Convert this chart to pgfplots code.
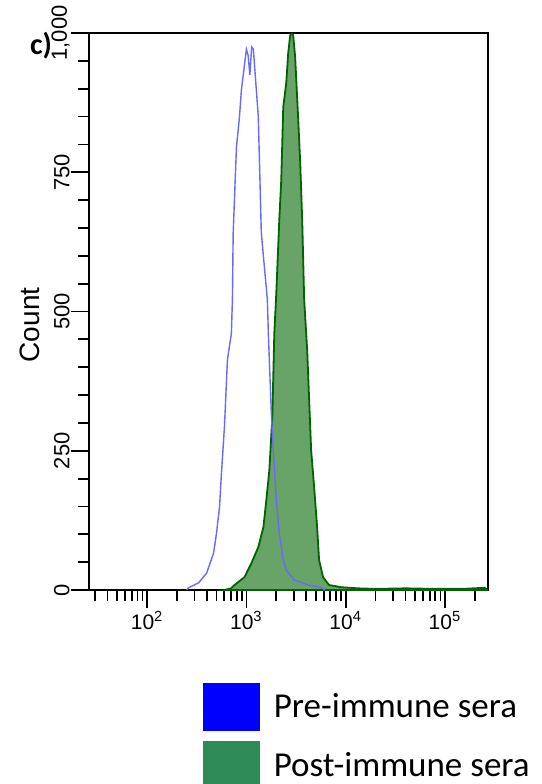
\documentclass[border=0pt]{standalone}
\usepackage{fontspec}
\setmainfont{Carlito}
\newfontfamily\arial{Liberation Sans}
\usepackage{pgfplots}
\usepackage{pgfplotstable}
\pgfplotsset{compat=1.18}
\definecolor{preblue}{RGB}{0,0,255}
\definecolor{postgreen}{RGB}{46,139,87}
\definecolor{fillgreen}{RGB}{104,163,104}
\definecolor{linegreen}{RGB}{0,100,0}
\definecolor{lineblue}{RGB}{105,105,255}

% pre-immune sera (outline histogram)
\pgfplotstableread{
x      c
250    0
262    4
330    13
397    30
467    66
500    102
536    149
561    210
601    293
644    413
706    461
723    521
736    641
794    795
851    849
891    898
1000   971
1040   960
1084   925
1130   975
1175   971
1259   898
1318   849
1413   641
1626   521
1663   461
1782   318
1866   251
2000   162
2143   102
2350   54
2518   36
3027   18
4188   9
5649   4
6200   0
}\pretable

% post-immune sera (filled histogram)
\pgfplotstableread{
x       c
600     0
700     3
759     9
955     23
1122    48
1318    77
1483    113
1589    162
1702    215
1824    311
1910    461
2000    533
2143    664
2244    736
2350    867
2518    910
2636    964
2761    996
2891    1000
2958    996
3097    957
3327    844
3483    767
3648    664
3819    521
4093    431
4487    251
4808    185
5152    113
5395    54
5916    23
6792    9
9000    5
13270   3
20000   2
40000   3
80000   2
150000  2
250000  4
270000  0
}\posttable

\begin{document}
\begin{tikzpicture}[x=1pt,y=1pt]
\begin{axis}[
  at={(44.5pt,97pt)}, anchor=south west,
  scale only axis, width=199.5pt, height=278.5pt,
  xmode=log, xmin=26, xmax=271000,
  ymin=0, ymax=1000,
  axis line style={line width=0.9pt},
  tick style={line width=0.9pt, black},
  tick align=outside, xtick pos=bottom, ytick pos=left,
  major tick length=9pt, minor tick length=5.5pt,
  xtick={100,1000,10000,100000},
  xticklabels={10\textsuperscript{2},10\textsuperscript{3},10\textsuperscript{4},10\textsuperscript{5}},
  minor xtick={30,40,50,60,70,80,90,200,300,400,500,600,700,800,900,
    2000,3000,4000,5000,6000,7000,8000,9000,
    20000,30000,40000,50000,60000,70000,80000,90000,200000},
  ytick={0,250,500,750,1000},
  yticklabels={0,250,500,750,{1,000}},
  minor y tick num=4,
  /pgf/number format/assume math mode=true,
  xticklabel style={font=\arial\fontsize{10.5}{12}\selectfont, inner sep=1.5pt},
  yticklabel style={font=\arial\fontsize{11}{12}\selectfont, rotate=90, anchor=south, inner sep=0.5pt},
  ylabel={Count},
  ylabel style={font=\arial\fontsize{14}{16}\selectfont, at={(axis description cs:-0.148,0.476)}, anchor=center},
  legend style={draw=none, fill=none, at={(0.2857,-0.167)}, anchor=north west,
    inner sep=0pt, outer sep=0pt, column sep=7pt, row sep=5pt,
    nodes={inner sep=0pt, anchor=west},
    font=\fontsize{17.5}{19}\selectfont},
  legend cell align=left,
  reverse legend,
]
\addplot[draw=linegreen, fill=fillgreen, line width=0.9pt,
  legend image code/.code={\fill[postgreen] (0pt,-11.75pt) rectangle (27.5pt,11.75pt);}]
  table[x=x, y=c] {\posttable} \closedcycle;
\addplot[draw=lineblue, line width=0.7pt,
  legend image code/.code={\fill[preblue] (0pt,-11.75pt) rectangle (27.5pt,11.75pt);}]
  table[x=x, y=c] {\pretable};
\legend{Post-immune sera,Pre-immune sera}
\end{axis}
\node[font=\bfseries\fontsize{15}{17}\selectfont] at (20.5,369) {c)};
\pgfresetboundingbox
\useasboundingbox (0,0) rectangle (271,392);
\end{tikzpicture}
\end{document}
